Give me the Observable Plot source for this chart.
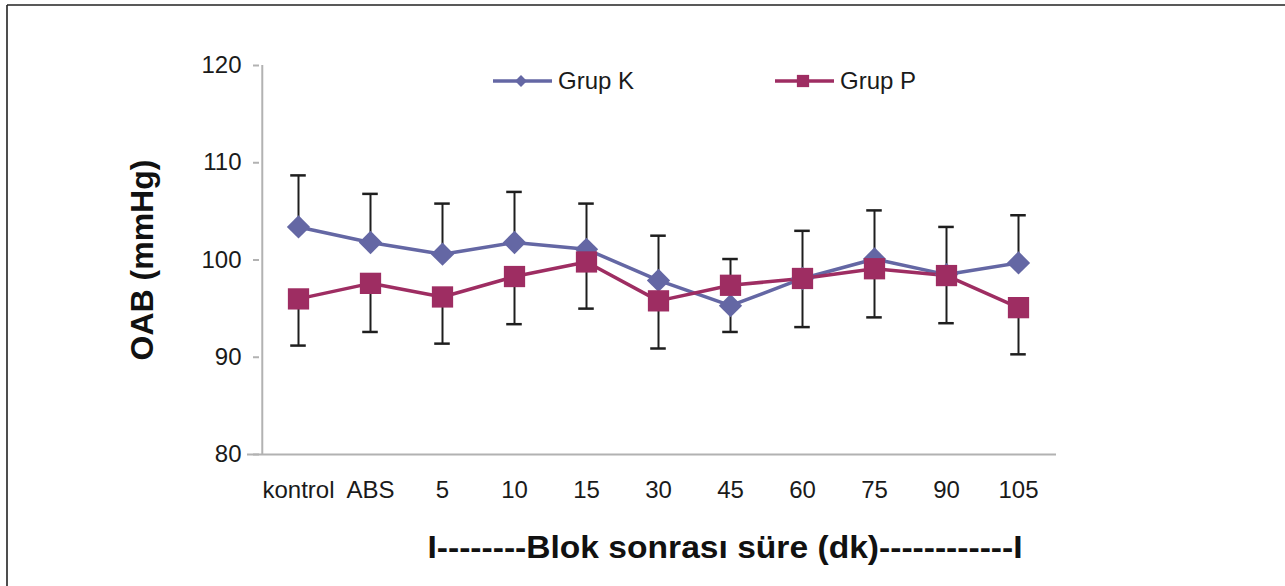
<!DOCTYPE html>
<html>
<head>
<meta charset="utf-8">
<script src="https://cdn.jsdelivr.net/npm/d3@7"></script>
<script src="https://cdn.jsdelivr.net/npm/@observablehq/plot@0.6"></script>
<style>
  html, body { margin: 0; padding: 0; background: #fff; }
  #chart svg { display: block; }
</style>
</head>
<body>
<div id="chart"></div>
<script>
const categories = ["kontrol", "ABS", "5", "10", "15", "30", "45", "60", "75", "90", "105"];
const grupK   = [103.4, 101.8, 100.6, 101.8, 101.1, 97.9, 95.3, 98.1, 100.1, 98.5, 99.7];
const grupKsd = [5.3, 5.0, 5.2, 5.2, 4.7, 4.6, 4.8, 4.9, 5.0, 4.9, 4.9];
const grupP   = [96.0, 97.6, 96.2, 98.3, 99.8, 95.8, 97.4, 98.1, 99.1, 98.4, 95.1];
const grupPsd = [4.8, 5.0, 4.8, 4.9, 4.8, 4.9, 4.8, 5.0, 5.0, 4.9, 4.8];
const yTicks  = [80, 90, 100, 110, 120];
const seriesNames = ["Grup K", "Grup P"];
const yLabel = "OAB (mmHg)";
const xLabel = "I--------Blok sonrası süre (dk)------------I";

const colorK = "#6467a4";
const colorP = "#9e2d62";
const barColor = "#1e1e1e";
const axisColor = "#b2b2b2";

const rows = categories.map((c, i) => ({
  cat: c,
  k: grupK[i], kHi: grupK[i] + grupKsd[i],
  p: grupP[i], pLo: grupP[i] - grupPsd[i]
}));

const W = 1285, H = 586, mL = 259, mR = 229, mT = 65, mB = 132;
const halfBand = (W - mL - mR) / categories.length / 2;
const capInset = halfBand - 8;

const chart = Plot.plot({
  width: W, height: H,
  marginLeft: mL, marginRight: mR, marginTop: mT, marginBottom: mB,
  style: { fontFamily: "'Liberation Sans', Arial, sans-serif", background: "#fff", color: "#1a1a1a" },
  x: { domain: categories, padding: 0, axis: null },
  y: { domain: [80, 120], axis: null },
  marks: [
    Plot.axisY({ ticks: yTicks, tickSize: 6, tickPadding: 12, fontSize: 24, stroke: axisColor, strokeWidth: 2, fill: "#1a1a1a", label: null }),
    Plot.axisX({ tickSize: 0, tickPadding: 26, fontSize: 24, fill: "#1a1a1a", label: null }),
    Plot.ruleX([categories[0]], { y1: 80, y2: 120, dx: -halfBand, stroke: axisColor, strokeWidth: 2 }),
    Plot.ruleY([80], { stroke: axisColor, strokeWidth: 2, insetLeft: -12 }),
    // error bars
    Plot.ruleX(rows, { x: "cat", y1: "k", y2: "kHi", stroke: barColor, strokeWidth: 2 }),
    Plot.tickY(rows, { x: "cat", y: "kHi", inset: capInset, stroke: barColor, strokeWidth: 2.5 }),
    Plot.ruleX(rows, { x: "cat", y1: "p", y2: "pLo", stroke: barColor, strokeWidth: 2 }),
    Plot.tickY(rows, { x: "cat", y: "pLo", inset: capInset, stroke: barColor, strokeWidth: 2.5 }),
    // lines
    Plot.line(rows, { x: "cat", y: "k", stroke: colorK, strokeWidth: 3.5 }),
    Plot.line(rows, { x: "cat", y: "p", stroke: colorP, strokeWidth: 3.5 }),
    // markers
    Plot.dot(rows, { x: "cat", y: "k", symbol: "diamond2", r: 10.5, fill: colorK, stroke: "none" }),
    Plot.dot(rows, { x: "cat", y: "p", symbol: "square", r: 12, fill: colorP, stroke: "none" })
  ]
});

document.getElementById("chart").appendChild(chart);

const svg = d3.select(chart);
const font = "'Liberation Sans', Arial, sans-serif";

// frame border (top & left)
svg.append("line").attr("x1", 7).attr("x2", W).attr("y1", 5).attr("y2", 5).attr("stroke", "#222").attr("stroke-width", 1.6);
svg.append("line").attr("x1", 7).attr("x2", 7).attr("y1", 5).attr("y2", H).attr("stroke", "#222").attr("stroke-width", 1.6);

// legend
const legend = [
  { name: seriesNames[0], color: colorK, x: 493, symbol: d3.symbol(d3.symbolDiamond2, 90) },
  { name: seriesNames[1], color: colorP, x: 775, symbol: d3.symbol(d3.symbolSquare, 150) }
];
legend.forEach(l => {
  const g = svg.append("g");
  g.append("line").attr("x1", l.x).attr("x2", l.x + 59).attr("y1", 81).attr("y2", 81)
    .attr("stroke", l.color).attr("stroke-width", 3.5);
  g.append("path").attr("d", l.symbol()).attr("transform", `translate(${l.x + 28},81)`).attr("fill", l.color);
  g.append("text").attr("x", l.x + 65).attr("y", 89).attr("font-size", 24)
    .attr("text-anchor", "start")
    .attr("font-family", font).attr("fill", "#1a1a1a").text(l.name);
});

// y axis label
svg.append("text").attr("transform", "translate(153,260) rotate(-90)")
  .attr("text-anchor", "middle").attr("font-size", 32).attr("font-weight", "bold")
  .attr("font-family", font).attr("fill", "#111").text(yLabel);

// x axis title (slightly stretched horizontally, as in the reference)
svg.append("text").attr("transform", "translate(725,558) scale(1.05,1)")
  .attr("text-anchor", "middle").attr("font-size", 32).attr("font-weight", "bold")
  .attr("font-family", font).attr("fill", "#111").text(xLabel);
</script>
</body>
</html>
